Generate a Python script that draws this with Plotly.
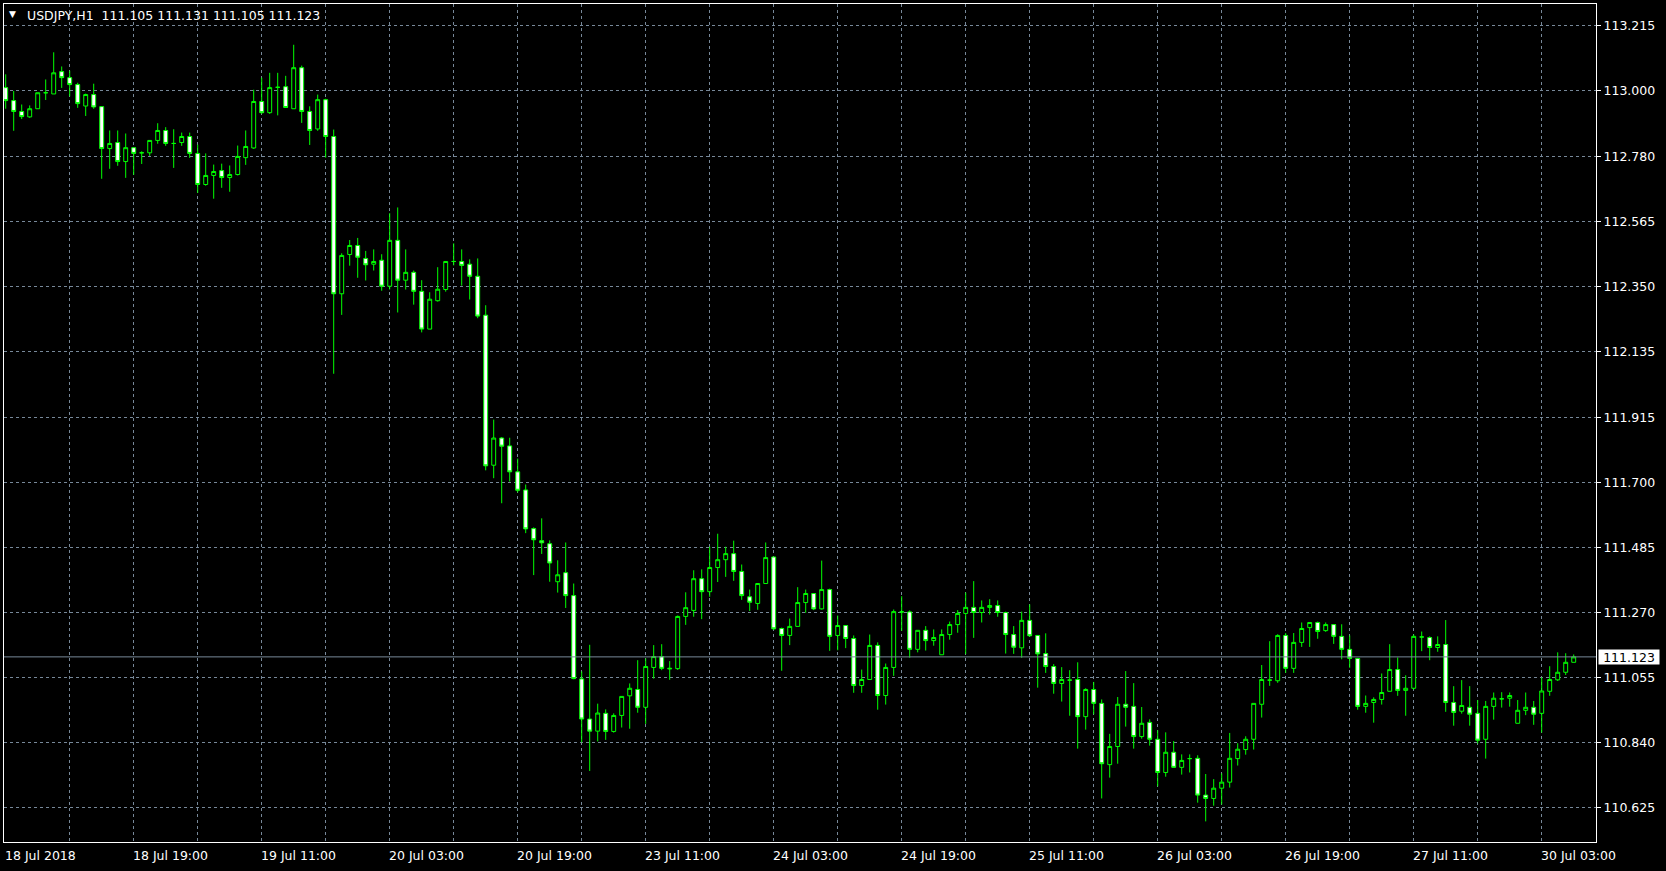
import plotly.graph_objects as go

# ---------------- data (USDJPY H1, 197 bars) ----------------
bar_index = list(range(197))

opens = [
    113.009, 112.966, 112.930, 112.912, 112.939, 112.992, 112.988, 113.062, 113.042, 113.019,
    112.948, 112.986, 112.946, 112.807, 112.827, 112.764, 112.810, 112.793, 112.793, 112.834,
    112.867, 112.824, 112.827, 112.847, 112.791, 112.688, 112.718, 112.734, 112.711, 112.721,
    112.777, 112.809, 112.963, 112.926, 113.010, 113.012, 112.939, 113.075, 112.930, 112.872,
    112.969, 112.847, 112.326, 112.456, 112.486, 112.443, 112.424, 112.437, 112.351, 112.503,
    112.371, 112.397, 112.334, 112.209, 112.303, 112.340, 112.433, 112.433, 112.424, 112.384,
    112.255, 111.758, 111.848, 111.822, 111.736, 111.676, 111.548, 111.508, 111.498, 111.372,
    111.402, 111.326, 111.050, 110.917, 110.877, 110.936, 110.876, 110.929, 110.994, 111.015,
    110.956, 111.088, 111.124, 111.083, 111.084, 111.257, 111.277, 111.382, 111.339, 111.419,
    111.445, 111.465, 111.406, 111.322, 111.300, 111.366, 111.454, 111.217, 111.194, 111.224,
    111.303, 111.333, 111.282, 111.346, 111.194, 111.227, 111.184, 111.028, 111.048, 111.161,
    110.995, 111.088, 111.272, 111.272, 111.148, 111.211, 111.177, 111.130, 111.197, 111.230,
    111.267, 111.287, 111.270, 111.287, 111.293, 111.270, 111.197, 111.153, 111.244, 111.194,
    111.134, 111.091, 111.035, 111.046, 111.048, 110.925, 111.015, 110.969, 110.766, 110.826,
    110.966, 110.959, 110.859, 110.906, 110.850, 110.740, 110.807, 110.757, 110.786, 110.787,
    110.665, 110.654, 110.688, 110.708, 110.786, 110.816, 110.850, 110.966, 111.046, 111.044,
    111.194, 111.085, 111.171, 111.220, 111.237, 111.210, 111.230, 111.191, 111.148, 111.118,
    110.959, 110.972, 110.982, 111.009, 111.081, 111.012, 111.019, 111.189, 111.187, 111.154,
    111.164, 110.972, 110.943, 110.956, 110.936, 110.850, 110.959, 110.984, 110.986, 110.903,
    110.946, 110.956, 110.936, 111.009, 111.047, 111.072, 111.105,
]

highs = [
    113.053, 112.998, 112.953, 112.950, 112.992, 113.036, 113.126, 113.079, 113.065, 113.025,
    112.989, 113.022, 112.946, 112.867, 112.867, 112.857, 112.810, 112.798, 112.834, 112.891,
    112.878, 112.871, 112.860, 112.860, 112.820, 112.791, 112.754, 112.757, 112.751, 112.817,
    112.867, 113.002, 113.042, 113.058, 113.058, 113.048, 113.151, 113.082, 112.947, 112.986,
    112.972, 112.870, 112.460, 112.504, 112.511, 112.468, 112.473, 112.457, 112.593, 112.612,
    112.473, 112.403, 112.371, 112.331, 112.414, 112.433, 112.493, 112.473, 112.440, 112.443,
    112.288, 111.909, 111.851, 111.849, 111.780, 111.694, 111.552, 111.582, 111.509, 111.443,
    111.502, 111.366, 111.075, 111.163, 110.968, 110.949, 110.936, 110.992, 111.035, 111.112,
    111.118, 111.162, 111.165, 111.109, 111.260, 111.337, 111.410, 111.413, 111.488, 111.531,
    111.488, 111.508, 111.429, 111.346, 111.366, 111.502, 111.454, 111.220, 111.250, 111.354,
    111.346, 111.333, 111.442, 111.349, 111.260, 111.227, 111.194, 111.081, 111.197, 111.171,
    111.101, 111.280, 111.324, 111.277, 111.211, 111.225, 111.214, 111.214, 111.240, 111.278,
    111.336, 111.374, 111.310, 111.314, 111.310, 111.273, 111.225, 111.273, 111.297, 111.194,
    111.201, 111.099, 111.089, 111.079, 111.105, 111.019, 111.040, 110.982, 110.868, 110.990,
    111.076, 111.036, 110.957, 110.916, 110.880, 110.873, 110.844, 110.800, 110.800, 110.797,
    110.735, 110.718, 110.737, 110.871, 110.837, 110.860, 110.969, 111.096, 111.175, 111.198,
    111.202, 111.202, 111.237, 111.237, 111.240, 111.237, 111.230, 111.231, 111.194, 111.118,
    110.995, 110.989, 111.068, 111.165, 111.121, 111.062, 111.197, 111.207, 111.191, 111.191,
    111.245, 111.026, 111.046, 111.026, 110.980, 110.977, 111.005, 111.006, 111.005, 110.980,
    111.005, 110.977, 111.055, 111.092, 111.138, 111.135, 111.131,
]

lows = [
    112.939, 112.866, 112.905, 112.909, 112.939, 112.968, 112.988, 113.008, 112.980, 112.942,
    112.915, 112.939, 112.707, 112.740, 112.750, 112.710, 112.720, 112.756, 112.783, 112.823,
    112.816, 112.743, 112.816, 112.776, 112.660, 112.684, 112.641, 112.677, 112.664, 112.718,
    112.753, 112.806, 112.922, 112.922, 112.917, 112.943, 112.939, 112.892, 112.819, 112.866,
    112.777, 112.061, 112.256, 112.419, 112.379, 112.370, 112.403, 112.336, 112.340, 112.264,
    112.340, 112.290, 112.198, 112.209, 112.300, 112.333, 112.420, 112.353, 112.307, 112.245,
    111.741, 111.715, 111.632, 111.704, 111.668, 111.533, 111.394, 111.464, 111.372, 111.336,
    111.285, 111.049, 110.840, 110.745, 110.843, 110.848, 110.872, 110.889, 110.885, 110.938,
    110.901, 111.051, 111.079, 111.047, 111.080, 111.229, 111.256, 111.248, 111.322, 111.371,
    111.388, 111.375, 111.312, 111.275, 111.279, 111.366, 111.212, 111.077, 111.162, 111.224,
    111.269, 111.278, 111.280, 111.143, 111.145, 111.152, 111.004, 111.004, 111.048, 110.948,
    110.965, 111.060, 111.209, 111.120, 111.138, 111.144, 111.160, 111.130, 111.180, 111.203,
    111.132, 111.186, 111.237, 111.263, 111.256, 111.134, 111.133, 111.120, 111.190, 111.021,
    111.070, 111.001, 110.975, 110.928, 110.819, 110.882, 110.933, 110.654, 110.723, 110.769,
    110.892, 110.819, 110.852, 110.829, 110.694, 110.726, 110.757, 110.733, 110.740, 110.640,
    110.578, 110.630, 110.634, 110.690, 110.763, 110.799, 110.816, 110.922, 111.027, 111.037,
    111.070, 111.070, 111.156, 111.156, 111.183, 111.206, 111.166, 111.115, 111.087, 110.948,
    110.938, 110.905, 110.965, 111.009, 110.994, 110.928, 111.015, 111.142, 111.112, 111.140,
    110.941, 110.895, 110.935, 110.895, 110.836, 110.786, 110.915, 110.955, 110.958, 110.903,
    110.930, 110.898, 110.872, 110.994, 111.043, 111.063, 111.105,
]

closes = [
    112.966, 112.930, 112.913, 112.939, 112.992, 112.992, 113.058, 113.042, 113.019, 112.956,
    112.986, 112.945, 112.807, 112.824, 112.764, 112.810, 112.791, 112.793, 112.834, 112.867,
    112.824, 112.824, 112.847, 112.791, 112.688, 112.718, 112.731, 112.711, 112.721, 112.781,
    112.814, 112.963, 112.926, 113.009, 113.010, 112.943, 113.075, 112.930, 112.867, 112.969,
    112.847, 112.326, 112.453, 112.486, 112.447, 112.422, 112.433, 112.351, 112.503, 112.371,
    112.397, 112.334, 112.209, 112.308, 112.341, 112.433, 112.433, 112.420, 112.384, 112.252,
    111.756, 111.848, 111.821, 111.736, 111.675, 111.547, 111.511, 111.501, 111.434, 111.395,
    111.326, 111.051, 110.917, 110.877, 110.937, 110.876, 110.929, 110.992, 111.019, 110.956,
    111.091, 111.124, 111.085, 111.085, 111.257, 111.286, 111.382, 111.339, 111.419, 111.445,
    111.465, 111.406, 111.326, 111.304, 111.366, 111.452, 111.216, 111.194, 111.224, 111.303,
    111.333, 111.282, 111.346, 111.191, 111.227, 111.184, 111.028, 111.048, 111.161, 110.995,
    111.088, 111.273, 111.272, 111.148, 111.211, 111.177, 111.187, 111.197, 111.230, 111.267,
    111.287, 111.270, 111.287, 111.293, 111.270, 111.197, 111.155, 111.244, 111.193, 111.133,
    111.091, 111.035, 111.048, 111.046, 110.925, 111.015, 110.969, 110.769, 110.826, 110.966,
    110.956, 110.859, 110.903, 110.850, 110.740, 110.807, 110.757, 110.780, 110.786, 110.665,
    110.654, 110.688, 110.708, 110.787, 110.817, 110.850, 110.969, 111.048, 111.046, 111.194,
    111.085, 111.171, 111.217, 111.237, 111.207, 111.230, 111.191, 111.148, 111.118, 110.959,
    110.969, 110.982, 111.005, 111.081, 111.012, 111.019, 111.191, 111.189, 111.154, 111.164,
    110.972, 110.939, 110.962, 110.933, 110.847, 110.959, 110.986, 110.984, 110.995, 110.946,
    110.956, 110.933, 111.010, 111.048, 111.072, 111.105, 111.123,
]

date_label_bars = [0, 16, 32, 48, 64, 80, 96, 112, 128, 144, 160, 176, 192]
date_labels = [
    "18 Jul 2018", "18 Jul 19:00", "19 Jul 11:00", "20 Jul 03:00", "20 Jul 19:00",
    "23 Jul 11:00", "24 Jul 03:00", "24 Jul 19:00", "25 Jul 11:00", "26 Jul 03:00",
    "26 Jul 19:00", "27 Jul 11:00", "30 Jul 03:00",
]
grid_bars = list(range(8, 193, 8))

price_ticks = [113.215, 113.000, 112.780, 112.565, 112.350, 112.135, 111.915,
               111.700, 111.485, 111.270, 111.055, 110.840, 110.625]

symbol_title = "USDJPY,H1"
last_ohlc = [111.105, 111.131, 111.105, 111.123]
current_price = 111.123

# ---------------- styling ----------------
FONT = "DejaVu Sans"
FS = 12.5
GRID = "#778899"
LIME = "#00ff00"

fig = go.Figure(
    go.Candlestick(
        x=bar_index, open=opens, high=highs, low=lows, close=closes,
        increasing=dict(line=dict(color=LIME, width=1), fillcolor="#000000"),
        decreasing=dict(line=dict(color=LIME, width=1), fillcolor="#ffffff"),
        whiskerwidth=0, hoverinfo="skip", showlegend=False,
    )
)

fig.update_layout(
    width=1666, height=871,
    margin=dict(l=4, r=70, t=4, b=29),
    paper_bgcolor="#000000", plot_bgcolor="#000000",
    font=dict(family=FONT, size=FS, color="#ffffff"),
    showlegend=False, hovermode=False,
    boxgap=0.3, boxgroupgap=0.3,
)

fig.update_xaxes(
    range=[-0.2125, 198.7875],
    tickmode="array", tickvals=grid_bars, showticklabels=False, ticks="",
    showgrid=True, gridcolor=GRID, gridwidth=1, griddash="3px,3px",
    showline=True, linecolor="#ffffff", linewidth=1, mirror=True,
    zeroline=False, rangeslider=dict(visible=False), fixedrange=True,
)

fig.update_yaxes(
    side="right", range=[110.5097, 113.286],
    tickmode="array", tickvals=price_ticks,
    ticktext=[f"{v:.3f}" for v in price_ticks],
    ticks="outside", ticklen=4, tickcolor="#ffffff",
    tickfont=dict(family=FONT, size=FS, color="#ffffff"),
    showgrid=True, gridcolor=GRID, gridwidth=1, griddash="3px,3px",
    showline=True, linecolor="#ffffff", linewidth=1, mirror=True,
    zeroline=False, fixedrange=True,
)

# current bid line
fig.add_shape(type="line", xref="paper", x0=0, x1=1, yref="y",
              y0=current_price, y1=current_price,
              line=dict(color=GRID, width=1))

annotations = []
# date labels under the plot
for b, t in zip(date_label_bars, date_labels):
    annotations.append(dict(
        x=b, xref="x", y=0, yref="paper", text=t, showarrow=False,
        xanchor="left", yanchor="top", yshift=-4, xshift=-3,
        font=dict(family=FONT, size=FS, color="#ffffff"),
    ))
# price label box
annotations.append(dict(
    x=1, xref="paper", y=current_price, yref="y", text=f"{current_price:.3f}",
    showarrow=False, xanchor="left", yanchor="middle", xshift=2,
    bgcolor="#ffffff", borderpad=0, width=60, height=14, align="center",
    font=dict(family=FONT, size=FS, color="#000000"),
))
# title
annotations.append(dict(
    x=0, xref="paper", y=1, yref="paper", text="\u25bc", showarrow=False,
    xanchor="left", yanchor="top", xshift=3, yshift=-3,
    font=dict(family=FONT, size=9, color="#ffffff"),
))
annotations.append(dict(
    x=0, xref="paper", y=1, yref="paper",
    text=symbol_title + "\u00a0\u00a0" + "\u00a0".join(f"{v:.3f}" for v in last_ohlc),
    showarrow=False, xanchor="left", yanchor="top", xshift=21, yshift=-2,
    font=dict(family=FONT, size=FS, color="#ffffff"),
))
fig.update_layout(annotations=annotations)

fig.write_html(
    "out.html",
    config={"displayModeBar": False},
    post_script="document.body.style.margin='0px';document.body.style.padding='0px';",
)
